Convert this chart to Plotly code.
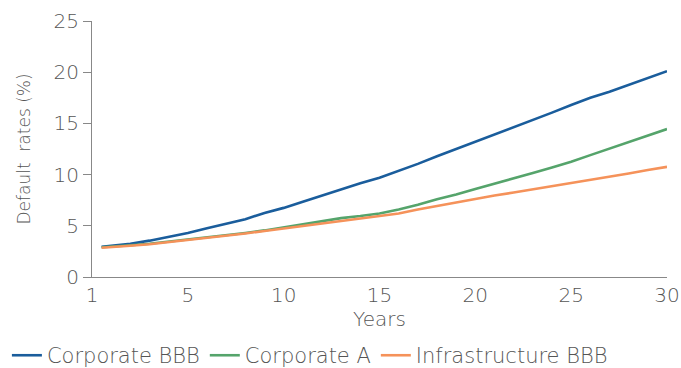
import plotly.graph_objects as go

years = [0.5] + list(range(1, 31))
corporate_bbb = [2.95, 3.05, 3.25, 3.55, 3.9, 4.3, 4.75, 5.2, 5.65, 6.25, 6.75, 7.35, 7.95, 8.6, 9.15, 9.7,
                 10.35, 11.05, 11.8, 12.5, 13.2, 13.9, 14.6, 15.3, 16.05, 16.8, 17.5, 18.1, 18.75, 19.4, 20.1]
corporate_a = [2.9, 2.95, 3.1, 3.25, 3.45, 3.65, 3.85, 4.05, 4.3, 4.55, 4.85, 5.15, 5.45, 5.75, 5.95, 6.2,
               6.6, 7.05, 7.6, 8.05, 8.6, 9.1, 9.6, 10.15, 10.7, 11.25, 11.9, 12.55, 13.15, 13.8, 14.45]
infrastructure_bbb = [2.85, 2.9, 3.05, 3.2, 3.4, 3.6, 3.85, 4.05, 4.25, 4.5, 4.75, 5.0, 5.2, 5.45, 5.7, 5.95,
                      6.2, 6.6, 6.95, 7.25, 7.6, 7.95, 8.25, 8.55, 8.9, 9.15, 9.45, 9.8, 10.1, 10.45, 10.76]

tick_pos = [0, 5, 10, 15, 20, 25, 30]
tick_text = ["1", "5", "10", "15", "20", "25", "30"]

series = [
    ("Corporate BBB", corporate_bbb, "#1a5d9c"),
    ("Corporate A", corporate_a, "#55a46b"),
    ("Infrastructure BBB", infrastructure_bbb, "#f5925a"),
]

FONT = "DejaVu Sans"
W = 200
GREY = "#555555"

fig = go.Figure()
for name, vals, col in series:
    fig.add_trace(go.Scatter(x=years, y=vals, name=name, mode="lines",
                             line=dict(color=col, width=2.6)))

fig.update_layout(
    width=681, height=368,
    margin=dict(l=92, r=14, t=21, b=91, autoexpand=False),
    paper_bgcolor="white", plot_bgcolor="white",
    font=dict(family=FONT, size=20, color=GREY, weight=W),
    showlegend=True,
    legend=dict(orientation="h", x=-0.148, xanchor="left", y=-0.307, yanchor="middle",
                font=dict(size=21, color=GREY, weight=W), itemwidth=30, tracegroupgap=0),
    xaxis=dict(range=[0, 30], tickvals=tick_pos, ticktext=tick_text, showgrid=False,
               zeroline=False, showline=True, linecolor="#888888", linewidth=1.2,
               ticks="", tickfont=dict(size=20, color=GREY, weight=W),
               title=dict(text="Years", font=dict(size=20, color=GREY, weight=W), standoff=4)),
    yaxis=dict(range=[0, 25], tickvals=[0, 5, 10, 15, 20, 25], showgrid=False,
               zeroline=False, showline=True, linecolor="#888888", linewidth=1.2,
               ticks="outside", ticklen=8, tickcolor="#888888", tickwidth=1.2,
               tickfont=dict(size=20, color=GREY, weight=W),
               title=dict(text="Default  rates (%)", font=dict(size=17, color=GREY, weight=W), standoff=18)),
)

fig.write_html("out.html")
